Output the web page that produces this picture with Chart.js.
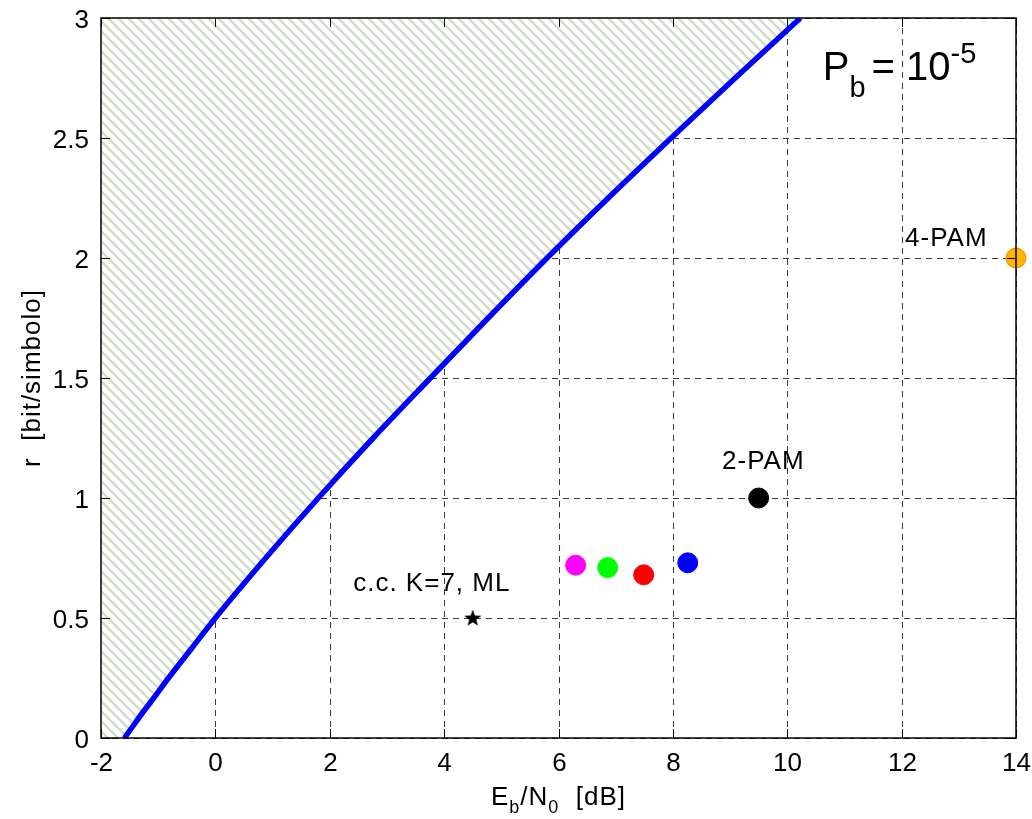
<!DOCTYPE html>
<html>
<head>
<meta charset="utf-8">
<script src="https://cdn.jsdelivr.net/npm/chart.js@4/dist/chart.umd.min.js"></script>
<style>
  html, body { margin: 0; padding: 0; background: #fff; }
  #wrap { width: 1032px; height: 819px; }
</style>
</head>
<body>
<div id="wrap"><canvas id="c" width="1032" height="819"></canvas></div>
<script>
// Shannon limit: Eb/N0 [dB] vs r [bit/simbolo]
const limitEbN0 = [-1.59, -1.44, -1.29, -1.13, -0.82, -0.41, 0, 0.88, 1.8, 2.76, 3.76, 4.77, 5.8, 6.87, 7.97, 9.09, 10.23]
const limitRate = [0, 0.05, 0.1, 0.15, 0.25, 0.375, 0.5, 0.75, 1, 1.25, 1.5, 1.75, 2, 2.25, 2.5, 2.75, 3]

// operating points
const pointNames = ['magenta', 'green', 'red', 'blue', '2-PAM', '4-PAM']
const pointEbN0 = [6.30, 6.86, 7.49, 8.26, 9.5, 14]
const pointRate = [0.72, 0.71, 0.68, 0.73, 1.0, 2.0]
const pointColors = ['#ff00ff', '#00ff00', '#ff0000', '#0000ff', '#000000', '#ffb400']
const pointBorders = ['#ff00ff', '#00ff00', '#ff0000', '#0000ff', '#000000', '#f08c00']

const starPoint = [4.5, 0.5]

const xTicks = [-2, 0, 2, 4, 6, 8, 10, 12, 14]
const yTicks = [0, 0.5, 1, 1.5, 2, 2.5, 3]

const FONT = "'Liberation Sans', Arial, Helvetica, sans-serif"
const TXT = '26px ' + FONT

// hatch pattern for the forbidden region
function makeHatch () {
  const t = document.createElement('canvas')
  t.width = 10
  t.height = 10
  const g = t.getContext('2d')
  g.fillStyle = '#ffffff'
  g.fillRect(0, 0, 10, 10)
  g.strokeStyle = '#d3ddcc'
  g.lineWidth = 2.6
  g.beginPath()
  g.moveTo(-5, -5); g.lineTo(15, 15)
  g.moveTo(-5, 5); g.lineTo(5, 15)
  g.moveTo(5, -5); g.lineTo(15, 5)
  g.stroke()
  return document.getElementById('c').getContext('2d').createPattern(t, 'repeat')
}

function makeStar () {
  const s = document.createElement('canvas')
  s.width = 20
  s.height = 20
  const g = s.getContext('2d')
  g.fillStyle = '#000'
  g.beginPath()
  for (let i = 0; i < 10; i++) {
    const r = i % 2 === 0 ? 9 : 3.7
    const a = -Math.PI / 2 + i * Math.PI / 5
    const px = 10 + r * Math.cos(a)
    const py = 10.5 + r * Math.sin(a)
    if (i === 0) g.moveTo(px, py); else g.lineTo(px, py)
  }
  g.closePath()
  g.fill()
  return s
}

const limitData = limitEbN0.map((x, i) => ({ x, y: limitRate[i] }))
const hatchData = [{ x: -2, y: 0 }].concat(limitData)

const pointSets = pointNames.map((name, i) => ({
  label: name,
  type: 'scatter',
  data: [{ x: pointEbN0[i], y: pointRate[i] }],
  pointRadius: 10,
  pointHoverRadius: 10,
  backgroundColor: pointColors[i],
  borderColor: pointBorders[i],
  borderWidth: 1,
  clip: false,
  order: 0
}))

// labels placed in data coordinates
const textLabels = [
  { text: 'c.c. K=7, ML', x: 2.41, y: 0.6125 },
  { text: '2-PAM', x: 8.86, y: 1.12 },
  { text: '4-PAM', x: 12.06, y: 2.05 }
]

const framePlugin = {
  id: 'frame',
  beforeDatasetsDraw (chart) {
    const { ctx, chartArea: a, scales: { x, y } } = chart
    ctx.save()
    ctx.strokeStyle = '#3a3a3a'
    ctx.lineWidth = 1
    ctx.setLineDash([6, 5])
    xTicks.forEach(v => {
      const px = Math.round(x.getPixelForValue(v)) + 0.5
      ctx.beginPath(); ctx.moveTo(px, a.bottom); ctx.lineTo(px, a.top); ctx.stroke()
    })
    yTicks.forEach(v => {
      const py = Math.round(y.getPixelForValue(v)) + 0.5
      ctx.beginPath(); ctx.moveTo(a.left, py); ctx.lineTo(a.right, py); ctx.stroke()
    })
    ctx.restore()
  },
  afterDatasetsDraw (chart) {
    const { ctx, chartArea: a, scales: { x, y } } = chart
    ctx.save()
    ctx.strokeStyle = '#000'
    ctx.lineWidth = 1.5
    ctx.strokeRect(a.left, a.top, a.right - a.left, a.bottom - a.top)
    ctx.lineWidth = 1
    const tl = 9
    ctx.fillStyle = '#000'
    ctx.font = TXT
    xTicks.forEach(v => {
      const px = Math.round(x.getPixelForValue(v)) + 0.5
      ctx.beginPath()
      ctx.moveTo(px, a.bottom); ctx.lineTo(px, a.bottom - tl)
      ctx.moveTo(px, a.top); ctx.lineTo(px, a.top + tl)
      ctx.stroke()
      ctx.textAlign = 'center'
      ctx.textBaseline = 'alphabetic'
      ctx.fillText(String(v), px, a.bottom + 33)
    })
    yTicks.forEach(v => {
      const py = Math.round(y.getPixelForValue(v)) + 0.5
      ctx.beginPath()
      ctx.moveTo(a.left, py); ctx.lineTo(a.left + tl, py)
      ctx.moveTo(a.right, py); ctx.lineTo(a.right - tl, py)
      ctx.stroke()
      ctx.textAlign = 'right'
      ctx.textBaseline = 'alphabetic'
      ctx.fillText(String(v), a.left - 12, py + 9)
    })

    ctx.letterSpacing = '1px'
    ctx.textAlign = 'left'
    textLabels.forEach(l => {
      ctx.fillText(l.text, x.getPixelForValue(l.x), y.getPixelForValue(l.y))
    })

    // P_b = 10^-5
    let px = x.getPixelForValue(10.62)
    const base = y.getPixelForValue(2.74)
    ctx.letterSpacing = '0px'
    ctx.font = '40px ' + FONT
    ctx.fillText('P', px, base)
    px += ctx.measureText('P').width
    ctx.font = '29px ' + FONT
    ctx.fillText('b', px, base + 17)
    px += ctx.measureText('b').width + 6
    ctx.font = '40px ' + FONT
    ctx.fillText('= 10', px, base)
    px += ctx.measureText('= 10').width
    ctx.font = '29px ' + FONT
    ctx.fillText('-5', px, base - 17)

    // x axis title: Eb/N0  [dB]
    ctx.letterSpacing = '1px'
    const sub = '18px ' + FONT
    const parts = [['E', 0], ['b', 1], ['/N', 0], ['0', 1], ['  [dB]', 0]]
    let w = 0
    parts.forEach(p => { ctx.font = p[1] ? sub : TXT; w += ctx.measureText(p[0]).width })
    let tx = (a.left + a.right) / 2 - w / 2
    const ty = 805
    parts.forEach(p => {
      ctx.font = p[1] ? sub : TXT
      ctx.fillText(p[0], tx, ty + (p[1] ? 8 : 0))
      tx += ctx.measureText(p[0]).width
    })

    // y axis title
    ctx.translate(40, (a.top + a.bottom) / 2)
    ctx.rotate(-Math.PI / 2)
    ctx.textAlign = 'center'
    ctx.font = TXT
    ctx.fillText('r  [bit/simbolo]', 0, 0)
    ctx.restore()
  }
}

new Chart(document.getElementById('c'), {
  type: 'scatter',
  data: {
    datasets: [
      ...pointSets,
      {
        label: 'K=7',
        type: 'scatter',
        data: [{ x: starPoint[0], y: starPoint[1] }],
        pointStyle: makeStar(),
        order: 0
      },
      {
        label: 'limit',
        type: 'line',
        data: limitData,
        borderColor: '#0000ff',
        borderWidth: 5.5,
        pointRadius: 0,
        fill: false,
        cubicInterpolationMode: 'monotone',
        order: 5
      },
      {
        label: 'hatch',
        type: 'line',
        data: hatchData,
        borderWidth: 0,
        borderColor: 'rgba(0,0,0,0)',
        pointRadius: 0,
        backgroundColor: makeHatch(),
        fill: 'end',
        cubicInterpolationMode: 'monotone',
        order: 10
      }
    ]
  },
  options: {
    responsive: false,
    animation: false,
    layout: { padding: { top: 18, right: 16, left: 0, bottom: 0 } },
    plugins: {
      legend: { display: false },
      tooltip: { enabled: false }
    },
    scales: {
      x: {
        type: 'linear',
        min: -2,
        max: 14,
        afterFit: s => { s.height = 81 },
        grid: { display: false },
        border: { display: false },
        ticks: { display: false }
      },
      y: {
        type: 'linear',
        min: 0,
        max: 3,
        afterFit: s => { s.width = 101 },
        grid: { display: false },
        border: { display: false },
        ticks: { display: false }
      }
    }
  },
  plugins: [framePlugin]
})
</script>
</body>
</html>
